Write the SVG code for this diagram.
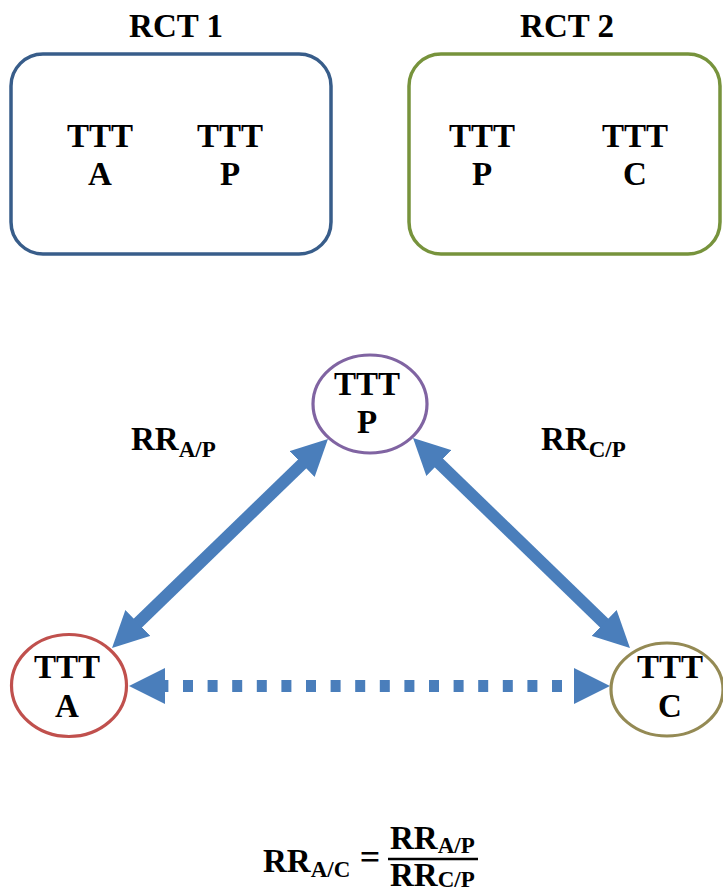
<svg xmlns="http://www.w3.org/2000/svg" width="723" height="895" viewBox="0 0 723 895">
<style>
  text { font-family: "Liberation Serif", "Times New Roman", serif; font-weight: bold; fill: #000; }
  .t { font-size: 33px; text-anchor: middle; }
  .lbl { font-size: 33px; }
  .sub { font-size: 23px; }
  .box { fill: #fff; stroke-width: 3.5; }
  .node { fill: #fff; stroke-width: 3.2; }
  .conn { stroke: #4a7ebb; stroke-width: 12; fill: none; marker-start: url(#ah); marker-end: url(#ah); }
</style>
<defs>
  <marker id="ah" markerUnits="userSpaceOnUse" viewBox="0 0 36 36" markerWidth="36" markerHeight="36" refX="16" refY="18" orient="auto-start-reverse">
    <path d="M0,0 L36,18 L0,36 Z" fill="#4a7ebb"/>
  </marker>
</defs>
<rect width="723" height="895" fill="#fff"/>

<g id="rct1">
  <text class="t" x="176" y="37">RCT 1</text>
  <rect class="box" x="11" y="54" width="320" height="200" rx="32" ry="32" stroke="#385d8a"/>
  <text class="t" x="100" y="147">TTT</text>
  <text class="t" x="100" y="185">A</text>
  <text class="t" x="230" y="147">TTT</text>
  <text class="t" x="230" y="185">P</text>
</g>

<g id="rct2">
  <text class="t" x="567" y="37">RCT 2</text>
  <rect class="box" x="409" y="54" width="311" height="200" rx="32" ry="32" stroke="#77933c"/>
  <text class="t" x="482" y="147">TTT</text>
  <text class="t" x="482" y="185">P</text>
  <text class="t" x="635" y="147">TTT</text>
  <text class="t" x="635" y="185">C</text>
</g>

<g id="connectors">
  <line class="conn" x1="126.4" y1="634.1" x2="313.6" y2="452.9"/>
  <line class="conn" x1="427.4" y1="451.9" x2="615.6" y2="634.1"/>
  <line class="conn" x1="149" y1="686" x2="590" y2="686" stroke-dasharray="10 14.6" stroke-dashoffset="15.2"/>
</g>

<g id="node-p">
  <ellipse class="node" cx="370" cy="404" rx="57" ry="49" stroke="#8064a2"/>
  <text class="t" x="367" y="395">TTT</text>
  <text class="t" x="367" y="433">P</text>
</g>

<g id="node-a">
  <ellipse class="node" cx="69" cy="685.5" rx="57.5" ry="51" stroke="#c0504d"/>
  <text class="t" x="67" y="678">TTT</text>
  <text class="t" x="67" y="717">A</text>
</g>

<g id="node-c">
  <ellipse class="node" cx="667" cy="689.5" rx="56" ry="46.5" stroke="#948a54"/>
  <text class="t" x="670" y="678">TTT</text>
  <text class="t" x="670" y="717">C</text>
</g>

<g id="label-ap">
  <text class="lbl" x="131" y="450">RR<tspan class="sub" dy="7">A/P</tspan></text>
</g>
<g id="label-cp">
  <text class="lbl" x="541" y="450">RR<tspan class="sub" dy="7">C/P</tspan></text>
</g>

<g id="formula">
  <text class="lbl" x="263" y="872">RR<tspan class="sub" dy="5">A/C</tspan></text>
  <text class="t" x="370" y="869" style="font-size:36px">=</text>
  <text class="lbl" x="390" y="849">RR<tspan class="sub" dy="4">A/P</tspan></text>
  <line x1="388" y1="859" x2="478" y2="859" stroke="#000" stroke-width="2.7"/>
  <text class="lbl" x="390" y="886">RR<tspan class="sub" dy="1">C/P</tspan></text>
</g>
</svg>
